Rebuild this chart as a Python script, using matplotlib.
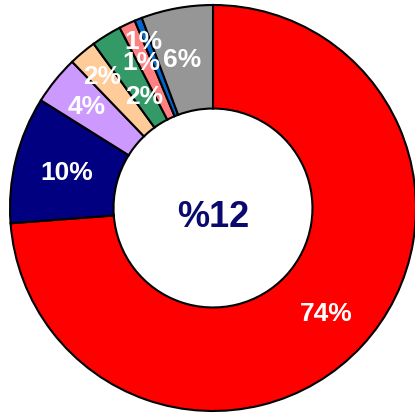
import numpy as np
import matplotlib.pyplot as plt

shares = [73.8, 10.1, 3.9, 2.2, 2.4, 1.3, 0.6, 5.7]
labels = ["74%", "10%", "4%", "2%", "2%", "1%", "1%", "6%"]
colors = ["#FF0000", "#000080", "#CC99FF", "#FFCC99", "#339966",
          "#FF8080", "#0066CC", "#969696"]
center_text = "%12"

# label placement tweaks (radius as fraction of outer radius, angle shift in deg)
label_r = [0.76, 0.74, 0.80, 0.85, 0.65, 0.89, 0.80, 0.75]
label_shift = [0, 0, 0, 0, 0, -2.5, 4.5, 1.5]

fig = plt.figure(figsize=(4.15, 4.14), dpi=100)
ax = fig.add_axes([0, 0, 1, 1])

wedges, _ = ax.pie(shares, colors=colors, startangle=90, counterclock=False,
                   radius=1.0,
                   wedgeprops=dict(width=0.51, edgecolor="black", linewidth=1.5))

for w, lab, r, sh in zip(wedges, labels, label_r, label_shift):
    ang = np.deg2rad((w.theta1 + w.theta2) / 2 + sh)
    ax.text(r * np.cos(ang), r * np.sin(ang), lab, ha="center", va="center",
            color="white", fontsize=19, fontweight="bold",
            family="Liberation Sans")

ax.text(0, -0.02, center_text, ha="center", va="center_baseline",
        color="#0a0a6e", fontsize=26, fontweight="bold",
        family="Liberation Sans")

ax.set_xlim(-213 / 203, 202 / 203)
ax.set_ylim(-205 / 203, 209 / 203)
ax.set_aspect("auto")
ax.axis("off")

fig.savefig("out.png", dpi=100)
